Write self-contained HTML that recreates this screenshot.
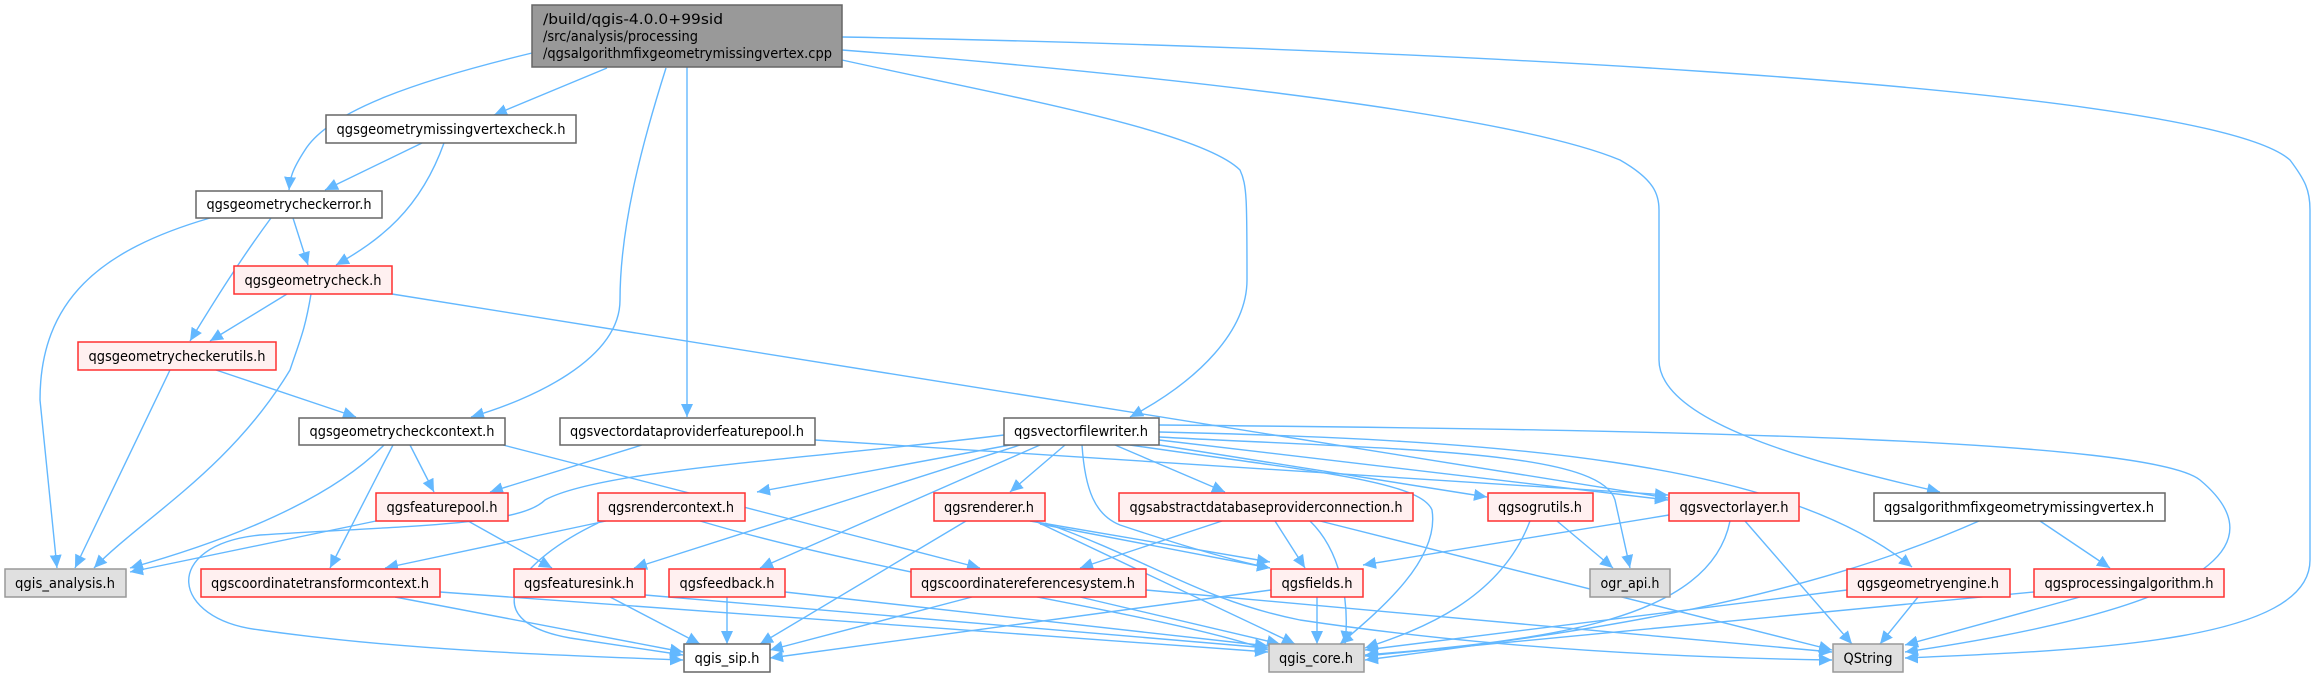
<!DOCTYPE html>
<html><head><meta charset="utf-8"><style>
html,body{margin:0;padding:0;background:#fff;width:2317px;height:678px;overflow:hidden}
svg text{font-family:"DejaVu Sans","Liberation Sans",sans-serif;font-size:14px;fill:#000}
.e{fill:none;stroke:#63b8ff;stroke-width:1.4;marker-end:url(#a)}
.w{fill:#fff;stroke:#666;stroke-width:1.5}
.r{fill:#fff0f0;stroke:#ff3030;stroke-width:1.5}
.g{fill:#e0e0e0;stroke:#999;stroke-width:1.5}
</style></head><body>
<svg width="2317" height="678" viewBox="0 0 2317 678" xmlns="http://www.w3.org/2000/svg">
<defs><marker id="a" markerUnits="userSpaceOnUse" markerWidth="14" markerHeight="12" refX="13" refY="6" orient="auto"><path d="M0,0 L13,6 L0,12 z" fill="#63b8ff"/></marker></defs>
<g>
<path class="e" d="M532,53 C420,80 330,110 305,150 C292,170 290,178 289,190"/>
<path class="e" d="M607,68 L494,115"/>
<path class="e" d="M666,68 C640,150 620,230 620,300 C620,360 530,400 471,417"/>
<path class="e" d="M687,67 L687,417"/>
<path class="e" d="M842,60 C1000,95 1200,130 1240,170 C1247,185 1247,200 1247,280 C1247,330 1200,380 1130,417"/>
<path class="e" d="M842,50 C1100,70 1500,110 1620,160 C1655,180 1659,195 1659,210 L1659,360 C1659,420 1800,460 1940,492"/>
<path class="e" d="M842,37 C1300,45 2200,80 2290,160 C2305,180 2310,190 2310,210 L2310,560 C2310,640 2100,650 1905,658"/>
<path class="e" d="M422,143 L325,190"/>
<path class="e" d="M444,143 C420,210 380,240 336,265"/>
<path class="e" d="M293,218 L308,265"/>
<path class="e" d="M210,218 C100,250 40,300 40,400 L57,568"/>
<path class="e" d="M271,218 C240,260 215,300 190,341"/>
<path class="e" d="M287,294 L210,341"/>
<path class="e" d="M311,294 C305,330 300,340 290,370 C230,470 140,520 94,568"/>
<path class="e" d="M392,294 L1668,498"/>
<path class="e" d="M170,370 L75,568"/>
<path class="e" d="M216,370 L356,417"/>
<path class="e" d="M384,445 C330,500 230,540 130,568"/>
<path class="e" d="M410,445 L434,492"/>
<path class="e" d="M393,445 L330,568"/>
<path class="e" d="M503,445 L980,568"/>
<path class="e" d="M642,445 L490,492"/>
<path class="e" d="M815,440 L1668,495"/>
<path class="e" d="M376,521 L130,572"/>
<path class="e" d="M468,521 L552,568"/>
<path class="e" d="M606,521 L385,568"/>
<path class="e" d="M598,523 C520,560 470,620 570,638 L683,655"/>
<path class="e" d="M700,521 C900,580 1150,610 1268,650"/>
<path class="e" d="M1004,435 C800,460 600,470 545,500 C520,525 420,525 260,535 C160,545 170,620 260,630 C400,650 550,655 683,660"/>
<path class="e" d="M1010,445 L757,492"/>
<path class="e" d="M1020,445 L634,568"/>
<path class="e" d="M1040,445 L760,568"/>
<path class="e" d="M1065,445 L1010,492"/>
<path class="e" d="M1115,445 L1225,492"/>
<path class="e" d="M1082,445 C1085,490 1095,515 1120,525 C1180,545 1230,560 1270,568"/>
<path class="e" d="M1130,445 C1300,470 1420,480 1432,510 C1440,560 1380,610 1340,644"/>
<path class="e" d="M1159,445 L1487,497"/>
<path class="e" d="M1159,440 L1668,500"/>
<path class="e" d="M1159,437 C1400,450 1600,450 1615,500 L1630,568"/>
<path class="e" d="M1159,432 C1500,440 1780,460 1912,567"/>
<path class="e" d="M1159,425 C1700,430 2150,440 2200,480 C2260,530 2260,600 1905,652"/>
<path class="e" d="M966,521 L760,644"/>
<path class="e" d="M1030,521 L1270,562"/>
<path class="e" d="M1040,524 L1270,568"/>
<path class="e" d="M1035,521 L1295,644"/>
<path class="e" d="M1045,523 C1150,560 1200,600 1300,620 C1500,650 1700,658 1832,660"/>
<path class="e" d="M1222,521 L1080,568"/>
<path class="e" d="M1275,521 L1305,568"/>
<path class="e" d="M1310,521 C1340,550 1350,600 1345,644"/>
<path class="e" d="M1320,521 L1832,650"/>
<path class="e" d="M1557,521 L1613,568"/>
<path class="e" d="M1530,521 C1500,600 1420,630 1365,648"/>
<path class="e" d="M1669,515 L1363,565"/>
<path class="e" d="M1730,521 C1710,620 1550,640 1365,655"/>
<path class="e" d="M1745,521 L1852,644"/>
<path class="e" d="M972,597 L770,650"/>
<path class="e" d="M1080,597 L1280,644"/>
<path class="e" d="M1146,590 L1832,652"/>
<path class="e" d="M395,597 L683,652"/>
<path class="e" d="M440,592 L1268,652"/>
<path class="e" d="M610,597 L700,644"/>
<path class="e" d="M645,595 L1268,648"/>
<path class="e" d="M727,597 L727,644"/>
<path class="e" d="M785,592 L1268,646"/>
<path class="e" d="M1317,597 L1317,644"/>
<path class="e" d="M1271,590 L770,658"/>
<path class="e" d="M1979,521 C1800,600 1600,630 1365,660"/>
<path class="e" d="M2040,521 L2110,568"/>
<path class="e" d="M1847,590 L1365,650"/>
<path class="e" d="M1918,597 L1880,644"/>
<path class="e" d="M2034,592 L1365,656"/>
<path class="e" d="M2080,597 L1905,645"/>
</g>
<rect x="532" y="5" width="310" height="62" fill="#999" stroke="#666" stroke-width="1.5"/>
<text x="543" y="24" textLength="180" lengthAdjust="spacingAndGlyphs">/build/qgis-4.0.0+99sid</text>
<text x="543" y="41" textLength="155" lengthAdjust="spacingAndGlyphs">/src/analysis/processing</text>
<text x="543" y="58" textLength="289" lengthAdjust="spacingAndGlyphs">/qgsalgorithmfixgeometrymissingvertex.cpp</text>
<g text-anchor="middle">
<rect class="w" x="326" y="115" width="250" height="28"/><text x="451" y="134" textLength="229" lengthAdjust="spacingAndGlyphs">qgsgeometrymissingvertexcheck.h</text>
<rect class="w" x="196" y="191" width="186" height="27"/><text x="289" y="209" textLength="165" lengthAdjust="spacingAndGlyphs">qgsgeometrycheckerror.h</text>
<rect class="r" x="234" y="266" width="158" height="28"/><text x="313" y="285" textLength="137" lengthAdjust="spacingAndGlyphs">qgsgeometrycheck.h</text>
<rect class="r" x="78" y="342" width="198" height="28"/><text x="177" y="361" textLength="177" lengthAdjust="spacingAndGlyphs">qgsgeometrycheckerutils.h</text>
<rect class="w" x="299" y="418" width="206" height="27"/><text x="402" y="436" textLength="185" lengthAdjust="spacingAndGlyphs">qgsgeometrycheckcontext.h</text>
<rect class="w" x="560" y="418" width="255" height="27"/><text x="687" y="436" textLength="234" lengthAdjust="spacingAndGlyphs">qgsvectordataproviderfeaturepool.h</text>
<rect class="w" x="1004" y="418" width="155" height="27"/><text x="1081" y="436" textLength="134" lengthAdjust="spacingAndGlyphs">qgsvectorfilewriter.h</text>
<rect class="w" x="1874" y="493" width="291" height="28"/><text x="2019" y="512" textLength="270" lengthAdjust="spacingAndGlyphs">qgsalgorithmfixgeometrymissingvertex.h</text>
<rect class="r" x="376" y="493" width="132" height="28"/><text x="442" y="512" textLength="111" lengthAdjust="spacingAndGlyphs">qgsfeaturepool.h</text>
<rect class="r" x="598" y="493" width="147" height="28"/><text x="671" y="512" textLength="126" lengthAdjust="spacingAndGlyphs">qgsrendercontext.h</text>
<rect class="r" x="934" y="493" width="111" height="28"/><text x="989" y="512" textLength="90" lengthAdjust="spacingAndGlyphs">qgsrenderer.h</text>
<rect class="r" x="1119" y="493" width="294" height="28"/><text x="1266" y="512" textLength="273" lengthAdjust="spacingAndGlyphs">qgsabstractdatabaseproviderconnection.h</text>
<rect class="r" x="1488" y="493" width="105" height="28"/><text x="1540" y="512" textLength="84" lengthAdjust="spacingAndGlyphs">qgsogrutils.h</text>
<rect class="r" x="1669" y="493" width="130" height="28"/><text x="1734" y="512" textLength="109" lengthAdjust="spacingAndGlyphs">qgsvectorlayer.h</text>
<rect class="g" x="5" y="569" width="121" height="28"/><text x="65" y="588" textLength="100" lengthAdjust="spacingAndGlyphs">qgis_analysis.h</text>
<rect class="r" x="201" y="569" width="239" height="28"/><text x="320" y="588" textLength="218" lengthAdjust="spacingAndGlyphs">qgscoordinatetransformcontext.h</text>
<rect class="r" x="514" y="569" width="131" height="28"/><text x="579" y="588" textLength="110" lengthAdjust="spacingAndGlyphs">qgsfeaturesink.h</text>
<rect class="r" x="669" y="569" width="116" height="28"/><text x="727" y="588" textLength="95" lengthAdjust="spacingAndGlyphs">qgsfeedback.h</text>
<rect class="r" x="911" y="569" width="235" height="28"/><text x="1028" y="588" textLength="214" lengthAdjust="spacingAndGlyphs">qgscoordinatereferencesystem.h</text>
<rect class="r" x="1271" y="569" width="92" height="28"/><text x="1317" y="588" textLength="71" lengthAdjust="spacingAndGlyphs">qgsfields.h</text>
<rect class="g" x="1590" y="569" width="80" height="28"/><text x="1630" y="588" textLength="59" lengthAdjust="spacingAndGlyphs">ogr_api.h</text>
<rect class="r" x="1847" y="569" width="163" height="28"/><text x="1928" y="588" textLength="142" lengthAdjust="spacingAndGlyphs">qgsgeometryengine.h</text>
<rect class="r" x="2034" y="569" width="190" height="28"/><text x="2129" y="588" textLength="169" lengthAdjust="spacingAndGlyphs">qgsprocessingalgorithm.h</text>
<rect class="w" x="684" y="644" width="86" height="28"/><text x="727" y="663" textLength="65" lengthAdjust="spacingAndGlyphs">qgis_sip.h</text>
<rect class="g" x="1269" y="644" width="95" height="28"/><text x="1316" y="663" textLength="74" lengthAdjust="spacingAndGlyphs">qgis_core.h</text>
<rect class="g" x="1833" y="644" width="70" height="28"/><text x="1868" y="663" textLength="49" lengthAdjust="spacingAndGlyphs">QString</text>
</g>
</svg>
</body></html>
